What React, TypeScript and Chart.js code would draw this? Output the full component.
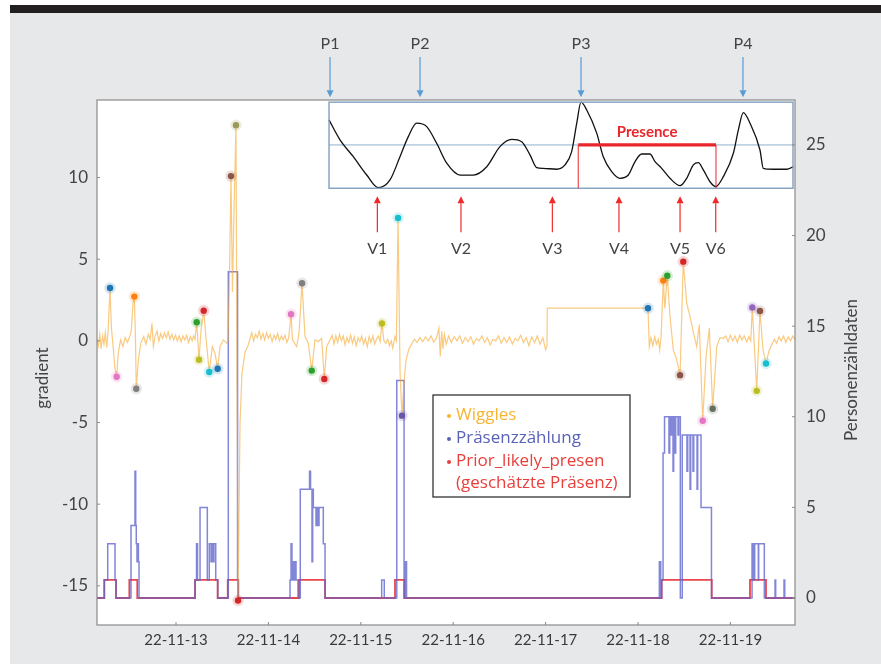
import React, { useEffect, useRef } from "react";
import { Chart, registerables } from "chart.js";

Chart.register(...registerables);

const FONT = "Lato, 'Open Sans', 'DejaVu Sans', sans-serif";
const LEGEND_FONT = "'Open Sans', Lato, 'DejaVu Sans', sans-serif";

// x values are days after 22-11-13 00:00
const dayTicks = [0, 1, 2, 3, 4, 5, 6];
const dayLabels = ["22-11-13", "22-11-14", "22-11-15", "22-11-16", "22-11-17", "22-11-18", "22-11-19"];
const gradientTicks = [-15, -10, -5, 0, 5, 10];
const countTicks = [0, 5, 10, 15, 20, 25];

const wiggles: [number, number][] = [
  [-0.855, 0.1], [-0.84, -0.3], [-0.825, 0.4], [-0.81, -0.5], [-0.795, 0.3], [-0.78, -0.2], [-0.765, 0.5], [-0.75, -0.4], [-0.735, 0.6],
  [-0.714, 3.24], [-0.7, 0.87], [-0.68, -0.4], [-0.663, -1.6], [-0.642, -2.2], [-0.625, -0.73], [-0.6, 0.06], [-0.575, -0.35],
  [-0.55, 0.2], [-0.525, -0.1], [-0.5, 0.3], [-0.485, 0.59], [-0.465, 2.3], [-0.451, 2.71], [-0.44, 0.5], [-0.43, -2.93],
  [-0.408, -1.16], [-0.38, -0.12], [-0.35, 0.25], [-0.325, -0.2], [-0.3, 0.4], [-0.28, 0.1], [-0.26, 1.08], [-0.245, -0.35],
  [-0.225, 0.3], [-0.205, 0.6], [-0.185, 0.0], [-0.165, 0.45], [-0.145, 0.15], [-0.125, 0.5], [-0.105, 0.2], [-0.085, 0.55],
  [-0.065, 0.1], [-0.045, 0.4], [-0.025, 0.05], [-0.005, 0.35], [0.015, 0.0], [0.035, 0.3], [0.055, -0.05], [0.075, 0.3],
  [0.095, 0.05], [0.115, 0.35], [0.135, -0.1], [0.155, 0.25], [0.175, 0.0], [0.19, 0.3], [0.205, 0.1],
  [0.224, 1.14], [0.249, -1.16], [0.27, 0.6], [0.3, 1.85], [0.325, 0.14], [0.36, -1.91], [0.393, -0.35], [0.422, -0.76],
  [0.451, -1.71], [0.476, -0.35], [0.512, 0.06], [0.549, -0.14], [0.563, 0.0], [0.579, 4.0], [0.595, 10.09], [0.611, 3.0],
  [0.628, 8.0], [0.649, 13.2], [0.671, -15.9], [0.693, -5.0], [0.714, -2.0], [0.747, -0.7], [0.779, -0.3],
  [0.8, 0.1], [0.82, 0.5], [0.84, 0.0], [0.86, 0.4], [0.88, 0.2], [0.9, 0.6], [0.92, 0.1], [0.94, 0.45], [0.96, 0.05],
  [0.98, 0.5], [1.0, 0.15], [1.02, 0.4], [1.04, -0.05], [1.06, 0.35], [1.08, 0.1], [1.1, 0.45], [1.12, 0.0], [1.14, 0.3],
  [1.16, 0.05], [1.18, 0.35], [1.2, -0.1], [1.22, 0.2],
  [1.245, 1.63], [1.26, 0.06], [1.283, -0.14], [1.306, -0.35], [1.331, 0.45], [1.364, 3.53], [1.396, 0.26], [1.432, -0.14],
  [1.469, -1.81], [1.504, 0.06], [1.54, -0.04], [1.576, 0.16], [1.605, -2.34], [1.631, -0.35], [1.667, 0.06],
  [1.69, 0.35], [1.71, -0.2], [1.73, 0.3], [1.75, -0.1], [1.77, 0.4], [1.79, 0.0], [1.81, 0.3], [1.83, -0.25], [1.85, 0.2],
  [1.87, -0.1], [1.89, 0.35], [1.91, -0.15], [1.93, 0.25], [1.95, -0.3], [1.97, 0.2], [1.99, -0.05], [2.01, 0.3], [2.03, -0.2],
  [2.05, 0.15], [2.07, -0.35], [2.09, 0.25], [2.11, -0.1], [2.13, 0.3], [2.15, -0.2], [2.17, 0.1], [2.19, 0.3], [2.21, -0.05],
  [2.229, 1.06], [2.25, 0.0], [2.27, -0.15], [2.29, 0.1], [2.31, -0.3], [2.33, 0.0], [2.345, -0.45], [2.37, 0.26], [2.385, 0.0],
  [2.403, 7.52], [2.425, -2.0], [2.446, -4.58], [2.468, -2.5], [2.489, -1.2], [2.52, -0.5], [2.55, -0.2],
  [2.58, 0.1], [2.61, -0.1], [2.64, 0.2], [2.67, -0.05], [2.7, 0.25], [2.73, 0.0], [2.76, 0.3], [2.79, -0.1], [2.82, 0.2],
  [2.845, 0.78], [2.86, -0.96], [2.875, 0.6], [2.89, -0.5], [2.905, 0.4], [2.925, -0.2], [2.95, 0.3], [2.98, -0.1],
  [3.01, 0.25], [3.04, 0.0], [3.07, 0.3], [3.1, -0.15], [3.13, 0.2], [3.16, -0.05], [3.19, 0.25], [3.22, -0.2], [3.25, 0.15],
  [3.28, 0.0], [3.31, 0.3], [3.34, -0.1], [3.37, 0.2], [3.4, -0.25], [3.43, 0.1], [3.46, 0.0], [3.49, 0.3], [3.52, -0.15],
  [3.55, 0.2], [3.58, -0.1], [3.61, 0.25], [3.64, -0.2], [3.67, 0.15], [3.7, 0.0], [3.73, 0.35], [3.76, -0.1], [3.79, 0.2],
  [3.82, -0.3], [3.85, 0.25], [3.88, -0.1], [3.91, 0.3], [3.94, -0.2], [3.97, 0.2], [4.0, -0.55], [4.015, -0.3],
  [4.018, 2.0], [5.108, 2.0],
  [5.122, -0.35], [5.14, 0.2], [5.16, -0.3], [5.18, 0.25], [5.2, -0.2], [5.22, 0.1], [5.235, -0.55], [5.25, 0.3],
  [5.274, 3.69], [5.29, 2.0], [5.317, 3.99], [5.346, 1.5], [5.382, -0.55], [5.419, -1.16], [5.455, -2.1], [5.49, 4.85],
  [5.527, 2.3], [5.563, 1.5], [5.599, 0.5], [5.635, -0.35], [5.663, 1.0], [5.7, -4.89], [5.736, -1.0], [5.772, 0.78],
  [5.808, -4.16], [5.852, -0.35], [5.887, 0.2], [5.923, 0.16],
  [5.95, 0.3], [5.975, -0.05], [6.0, 0.35], [6.025, 0.0], [6.05, 0.3], [6.075, -0.1], [6.1, 0.35], [6.125, 0.05], [6.15, 0.3],
  [6.175, -0.05], [6.2, 0.25], [6.22, 0.0], [6.237, 2.04], [6.285, -3.06], [6.32, 1.83], [6.352, -0.5], [6.385, -1.39],
  [6.418, -0.6], [6.45, -0.2], [6.475, 0.1], [6.5, -0.15], [6.525, 0.25], [6.55, 0.0], [6.575, 0.3], [6.6, -0.1],
  [6.625, 0.25], [6.65, 0.0], [6.675, 0.3], [6.699, 0.05],
];

const extremaDays = [-0.714, -0.642, -0.451, -0.43, 0.224, 0.249, 0.3, 0.36, 0.451, 0.595, 0.649, 0.671, 1.245, 1.364, 1.469,
  1.605, 2.229, 2.403, 2.446, 5.108, 5.274, 5.317, 5.455, 5.49, 5.7, 5.808, 6.237, 6.285, 6.32, 6.385];
const extremaValues = [3.24, -2.2, 2.71, -2.93, 1.14, -1.16, 1.85, -1.91, -1.71, 10.09, 13.2, -15.9, 1.63, 3.53, -1.82,
  -2.34, 1.06, 7.52, -4.58, 2.0, 3.69, 3.99, -2.1, 4.85, -4.89, -4.16, 2.04, -3.06, 1.83, -1.39];
const extremaColors = ["#1f77b4", "#e377c2", "#ff7f0e", "#7f7f7f", "#2ca02c", "#bcbd22", "#d62728", "#17becf", "#1f77b4",
  "#8c564b", "#9a9a5a", "#d62728", "#e377c2", "#7f7f7f", "#2ca02c", "#d62728", "#bcbd22", "#17becf", "#6a55a8", "#1f77b4",
  "#ff7f0e", "#2ca02c", "#8c564b", "#d62728", "#e377c2", "#66705f", "#9467bd", "#bcbd22", "#8c564b", "#17becf"];

const countSteps: [number, number][] = [
  [-0.855, 0], [-0.776, 1], [-0.739, 3], [-0.66, 1], [-0.649, 0], [-0.487, 4], [-0.444, 7], [-0.436, 4], [-0.43, 3],
  [-0.422, 2], [-0.414, 3], [-0.407, 2], [-0.4, 0], [0.206, 1], [0.222, 3], [0.233, 1], [0.26, 5], [0.339, 1], [0.36, 3],
  [0.379, 2], [0.39, 3], [0.4, 2], [0.411, 3], [0.43, 1], [0.451, 0], [0.566, 18], [0.666, 1], [0.674, 0], [1.234, 1],
  [1.245, 3], [1.255, 1], [1.266, 2], [1.277, 1], [1.288, 2], [1.299, 1], [1.32, 0], [1.345, 6], [1.445, 7], [1.456, 6],
  [1.472, 2], [1.479, 6], [1.486, 5], [1.515, 4], [1.526, 5], [1.537, 4], [1.548, 5], [1.594, 3], [1.613, 0], [2.226, 1],
  [2.254, 0], [2.389, 12], [2.468, 0], [2.484, 2], [2.495, 0], [5.231, 2], [5.246, 0], [5.256, 1], [5.271, 8], [5.287, 10],
  [5.335, 8], [5.343, 10], [5.357, 9], [5.365, 10], [5.379, 7], [5.386, 10], [5.4, 8], [5.408, 10], [5.433, 9], [5.44, 10],
  [5.458, 0], [5.479, 9], [5.53, 7], [5.538, 9], [5.563, 6], [5.57, 9], [5.595, 7], [5.603, 9], [5.639, 6], [5.646, 9],
  [5.682, 5], [5.795, 0], [6.234, 3], [6.248, 1], [6.263, 3], [6.302, 1], [6.306, 3], [6.367, 0], [6.483, 1], [6.49, 0],
  [6.58, 1], [6.588, 0], [6.699, 0],
];

const priorSteps: [number, number][] = [
  [-0.855, 0], [-0.776, 1], [-0.649, 0], [-0.505, 1], [-0.419, 0], [0.206, 1], [0.451, 0], [0.56, 1], [0.674, 0],
  [1.331, 1], [1.613, 0], [2.37, 1], [2.471, 0], [5.256, 1], [5.798, 0], [6.212, 1], [6.385, 0], [6.699, 0],
];

// inset curve, drawn in Personenzähldaten units
const insetCurve: [number, number][] = [
  [1.656, 26.38], [1.775, 25.28], [1.919, 24.35], [2.064, 23.34], [2.189, 22.64], [2.316, 23.07], [2.424, 24.35],
  [2.514, 25.46], [2.605, 26.2], [2.713, 26.01], [2.821, 25.09], [2.93, 23.99], [3.074, 23.34], [3.218, 23.34],
  [3.363, 23.8], [3.506, 24.91], [3.633, 25.31], [3.741, 25.18], [3.831, 24.45], [3.904, 23.75], [3.975, 23.71],
  [4.12, 23.66], [4.21, 23.9], [4.282, 24.63], [4.337, 26.2], [4.383, 27.36], [4.445, 26.93], [4.553, 25.65],
  [4.624, 24.35], [4.715, 23.53], [4.805, 23.16], [4.895, 23.34], [4.968, 24.08], [5.04, 24.5], [5.13, 24.5],
  [5.184, 24.08], [5.256, 23.71], [5.346, 23.16], [5.455, 22.75], [5.527, 23.16], [5.599, 23.9], [5.653, 24.02],
  [5.707, 23.62], [5.779, 22.97], [5.841, 22.7], [5.923, 23.25], [6.032, 24.54], [6.086, 25.83], [6.14, 26.78],
  [6.212, 26.2], [6.32, 24.72], [6.356, 23.71], [6.464, 23.66], [6.609, 23.66], [6.681, 23.8],
];

const peakNames = ["P1", "P2", "P3", "P4"];
const peakDays = [1.667, 2.641, 4.383, 6.136];
const valleyNames = ["V1", "V2", "V3", "V4", "V5", "V6"];
const valleyDays = [2.179, 3.084, 4.073, 4.794, 5.455, 5.841];
const presenceRange = [4.353, 5.844];
const presenceLevel = 25;
const insetStart = 1.656;
const insetLow = 22.61;
const insetHigh = 27.36;

const legendItems = [
  { text: "Wiggles", color: "#f5b532", bullet: true },
  { text: "Präsenzzählung", color: "#5a62b8", bullet: true },
  { text: "Prior_likely_presen", color: "#e8403b", bullet: true },
  { text: "(geschätzte Präsenz)", color: "#e8403b", bullet: false },
];

function arrow(ctx: CanvasRenderingContext2D, x: number, yFrom: number, yTo: number, color: string) {
  const dir = Math.sign(yTo - yFrom);
  const head = 7;
  ctx.save();
  ctx.strokeStyle = color;
  ctx.fillStyle = color;
  ctx.lineWidth = 1.2;
  ctx.beginPath();
  ctx.moveTo(x, yFrom);
  ctx.lineTo(x, yTo - dir * head);
  ctx.stroke();
  ctx.beginPath();
  ctx.moveTo(x, yTo);
  ctx.lineTo(x - 3.5, yTo - dir * head);
  ctx.lineTo(x + 3.5, yTo - dir * head);
  ctx.closePath();
  ctx.fill();
  ctx.restore();
}

const overlay = {
  id: "overlay",
  beforeDraw(chart: any) {
    const { ctx, chartArea: a } = chart;
    ctx.save();
    ctx.fillStyle = "#ffffff";
    ctx.fillRect(a.left, a.top, a.right - a.left, a.bottom - a.top);
    ctx.restore();
  },
  beforeDatasetsDraw(chart: any) {
    const { ctx, chartArea: a, scales } = chart;
    const x0 = scales.x.getPixelForValue(insetStart);
    const yt = scales.y1.getPixelForValue(insetHigh);
    const yb = scales.y1.getPixelForValue(insetLow);
    const ym = scales.y1.getPixelForValue(presenceLevel);
    ctx.save();
    ctx.fillStyle = "#ffffff";
    ctx.fillRect(x0, yt, a.right - 2 - x0, yb - yt);
    ctx.strokeStyle = "#8fb0cf";
    ctx.lineWidth = 1;
    ctx.beginPath();
    ctx.moveTo(x0, ym);
    ctx.lineTo(a.right - 2, ym);
    ctx.stroke();
    ctx.restore();
  },
  afterDatasetsDraw(chart: any) {
    const { ctx, chartArea: a, scales } = chart;
    const x0 = scales.x.getPixelForValue(insetStart);
    const yt = scales.y1.getPixelForValue(insetHigh);
    const yb = scales.y1.getPixelForValue(insetLow);
    const ym = scales.y1.getPixelForValue(presenceLevel);
    const ps = scales.x.getPixelForValue(presenceRange[0]);
    const pe = scales.x.getPixelForValue(presenceRange[1]);
    ctx.save();
    ctx.strokeStyle = "#7f9fbf";
    ctx.lineWidth = 1.4;
    ctx.strokeRect(x0, yt, a.right - 2 - x0, yb - yt);
    ctx.strokeStyle = "#e8262b";
    ctx.lineWidth = 1;
    ctx.beginPath();
    ctx.moveTo(ps, ym);
    ctx.lineTo(ps, yb);
    ctx.moveTo(pe, ym);
    ctx.lineTo(pe, yb);
    ctx.stroke();
    ctx.lineWidth = 3.2;
    ctx.beginPath();
    ctx.moveTo(ps, ym);
    ctx.lineTo(pe, ym);
    ctx.stroke();
    ctx.fillStyle = "#e8262b";
    ctx.font = `bold 15px ${FONT}`;
    ctx.textAlign = "center";
    ctx.textBaseline = "middle";
    ctx.fillText("Presence", (ps + pe) / 2, ym - 13);
    ctx.restore();
  },
  afterDraw(chart: any) {
    const { ctx, chartArea: a, scales } = chart;
    ctx.save();
    // frame
    ctx.strokeStyle = "#8a8a8a";
    ctx.lineWidth = 1.2;
    ctx.strokeRect(a.left, a.top, a.right - a.left, a.bottom - a.top);
    // inner ticks
    ctx.lineWidth = 1;
    ctx.beginPath();
    gradientTicks.forEach((v) => {
      const y = scales.y.getPixelForValue(v);
      ctx.moveTo(a.left, y);
      ctx.lineTo(a.left + 3, y);
    });
    countTicks.forEach((v) => {
      const y = scales.y1.getPixelForValue(v);
      ctx.moveTo(a.right, y);
      ctx.lineTo(a.right - 3, y);
    });
    dayTicks.forEach((v) => {
      const x = scales.x.getPixelForValue(v);
      ctx.moveTo(x, a.bottom);
      ctx.lineTo(x, a.bottom - 3);
    });
    ctx.stroke();

    // axis titles
    ctx.fillStyle = "#444";
    ctx.font = `17px ${FONT}`;
    ctx.textAlign = "center";
    ctx.textBaseline = "middle";
    ctx.save();
    ctx.translate(43, 378);
    ctx.rotate(-Math.PI / 2);
    ctx.fillText("gradient", 0, 0);
    ctx.restore();
    ctx.save();
    ctx.translate(852, 370);
    ctx.rotate(-Math.PI / 2);
    ctx.fillText("Personenzähldaten", 0, 0);
    ctx.restore();

    // P / V annotations
    const yt = scales.y1.getPixelForValue(insetHigh);
    const yb = scales.y1.getPixelForValue(insetLow);
    peakDays.forEach((d, i) => {
      const x = scales.x.getPixelForValue(d);
      arrow(ctx, x, 57, yt - 5, "#5b9bd5");
      ctx.fillStyle = "#444";
      ctx.font = `16px ${FONT}`;
      ctx.fillText(peakNames[i], x, 44);
    });
    valleyDays.forEach((d, i) => {
      const x = scales.x.getPixelForValue(d);
      arrow(ctx, x, yb + 44, yb + 8, "#ee2a2a");
      ctx.fillStyle = "#444";
      ctx.font = `16px ${FONT}`;
      ctx.fillText(valleyNames[i], x, yb + 61);
    });

    // legend
    const lx = 433, ly = 395, lw = 197, lh = 102;
    ctx.fillStyle = "#ffffff";
    ctx.fillRect(lx, ly, lw, lh);
    ctx.strokeStyle = "#333";
    ctx.lineWidth = 1.3;
    ctx.strokeRect(lx, ly, lw, lh);
    ctx.textAlign = "left";
    ctx.font = `17px ${LEGEND_FONT}`;
    const rows = [415, 438, 461, 483];
    legendItems.forEach((it, i) => {
      ctx.fillStyle = it.color;
      if (it.bullet) {
        ctx.beginPath();
        ctx.arc(449, rows[i] + 1, 2, 0, Math.PI * 2);
        ctx.fill();
      }
      ctx.fillText(it.text, 456, rows[i]);
    });
    ctx.restore();
  },
};

export default function App() {
  const ref = useRef<HTMLCanvasElement | null>(null);

  useEffect(() => {
    if (!ref.current) return;
    const toXY = (arr: [number, number][]) => arr.map(([x, y]) => ({ x, y }));
    const chart = new Chart(ref.current, {
      type: "line",
      data: {
        datasets: [
          {
            label: "extrema",
            data: extremaDays.map((d, i) => ({ x: d, y: extremaValues[i] })),
            yAxisID: "y",
            showLine: false,
            pointRadius: 3.2,
            pointBackgroundColor: extremaColors,
            pointBorderColor: extremaColors.map((c) => c + "30"),
            pointBorderWidth: 5,
            order: 0,
          } as any,
          {
            label: "inset",
            data: toXY(insetCurve),
            yAxisID: "y1",
            borderColor: "#111111",
            borderWidth: 1.3,
            pointRadius: 0,
            cubicInterpolationMode: "monotone",
            order: 1,
          },
          {
            label: "Wiggles",
            data: toXY(wiggles),
            yAxisID: "y",
            borderColor: "rgba(245,170,50,0.62)",
            borderWidth: 1.2,
            pointRadius: 0,
            tension: 0,
            order: 2,
          },
          {
            label: "Präsenzzählung",
            data: toXY(countSteps),
            yAxisID: "y1",
            stepped: true,
            borderColor: "rgba(95,100,205,0.78)",
            borderWidth: 1.5,
            pointRadius: 0,
            order: 3,
          },
          {
            label: "Prior_likely_presen",
            data: toXY(priorSteps),
            yAxisID: "y1",
            stepped: true,
            borderColor: "rgba(228,38,45,0.85)",
            borderWidth: 1.8,
            pointRadius: 0,
            order: 4,
          },
        ],
      },
      options: {
        animation: false,
        responsive: false,
        devicePixelRatio: 1,
        layout: { padding: { top: 100, left: 0, right: 0, bottom: 0 } },
        plugins: { legend: { display: false }, tooltip: { enabled: false } },
        scales: {
          x: {
            type: "linear",
            min: -0.855,
            max: 6.699,
            grid: { display: false, drawTicks: false },
            border: { display: false },
            ticks: {
              autoSkip: false,
              maxRotation: 0,
              padding: 6,
              color: "#3a3a3a",
              font: { family: FONT, size: 15 },
              callback: (v: any) => {
                const i = dayTicks.indexOf(Number(v));
                return i >= 0 ? dayLabels[i] : "";
              },
            },
            afterBuildTicks: (s: any) => {
              s.ticks = dayTicks.map((v) => ({ value: v }));
            },
            afterFit: (s: any) => {
              s.height = 39;
            },
          },
          y: {
            type: "linear",
            position: "left",
            min: -17.4,
            max: 14.75,
            grid: { display: false, drawTicks: false },
            border: { display: false },
            ticks: { padding: 9, color: "#444", font: { family: FONT, size: 17 } },
            afterBuildTicks: (s: any) => {
              s.ticks = gradientTicks.map((v) => ({ value: v }));
            },
            afterFit: (s: any) => {
              s.width = 97;
            },
          },
          y1: {
            type: "linear",
            position: "right",
            min: -1.49,
            max: 27.48,
            grid: { display: false, drawTicks: false },
            border: { display: false },
            ticks: { padding: 11, color: "#444", font: { family: FONT, size: 17 } },
            afterBuildTicks: (s: any) => {
              s.ticks = countTicks.map((v) => ({ value: v }));
            },
            afterFit: (s: any) => {
              s.width = 86;
            },
          },
        },
      } as any,
      plugins: [overlay],
    });
    return () => chart.destroy();
  }, []);

  return (
    <div style={{ position: "fixed", left: 0, top: 0, width: 881, height: 664, background: "#ffffff", overflow: "hidden" }}>
      <div
        style={{
          position: "absolute",
          left: 10,
          top: 5,
          right: 0,
          bottom: 0,
          background: "#e7e8ea",
          borderTop: "8px solid #231f20",
        }}
      />
      <canvas ref={ref} width={881} height={664} style={{ position: "absolute", left: 0, top: 0, width: 881, height: 664 }} />
    </div>
  );
}
